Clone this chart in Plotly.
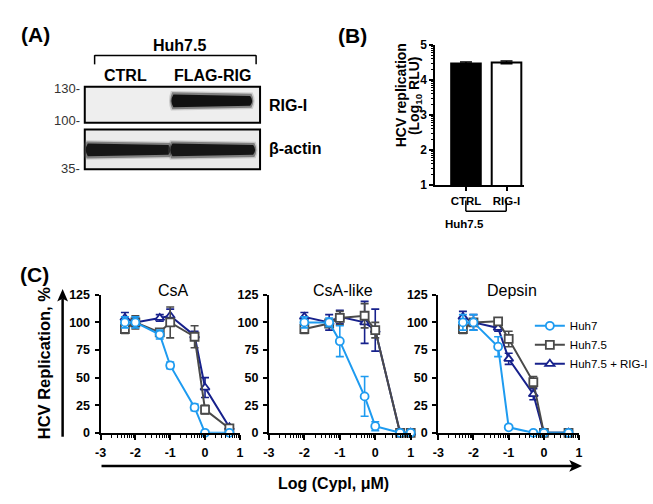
import math
import plotly.graph_objects as go

W, H = 653, 504
FONT = "Liberation Sans, Arial, sans-serif"

# ---------------- Panel B data ----------------
b_categories = ["CTRL", "RIG-I"]
b_values = [4.47, 4.50]
b_errors = [0.04, 0.04]
b_colors = ["black", "white"]

# ---------------- Panel C data ----------------
series_names = ["Huh7", "Huh7.5", "Huh7.5 + RIG-I"]
series_colors = ["#1E9BF0", "#4A4A4A", "#17218C"]
series_symbols = ["circle", "square", "triangle-up"]

x_csa = [-2.3, -2.0, -1.3, -1.0, -0.3, 0.0, 0.7]
csa_huh7 = [100, 100, 89, 61, 23, 0, 0]
csa_huh7_err = [5, 5, 4, 3, 3, 0, 0]
csa_huh75 = [94, 100, 91, 100, 87, 21, 4]
csa_huh75_err = [4, 6, 2, 14, 10, 4, 2]
csa_rig = [104, 100, 104, 106, 88, 41, 5]
csa_rig_err = [5, 4, 3, 6, 4, 9, 2]

x_csalike = [-2.0, -1.3, -1.0, -0.3, 0.0, 0.7, 1.0]
csalike_huh7 = [100, 100, 83, 33, 6, 0, 0]
csalike_huh7_err = [5, 4, 14, 18, 4, 0, 0]
csalike_huh75 = [94, 99, 104, 106, 93, 0, 0]
csalike_huh75_err = [4, 3, 6, 11, 7, 0, 0]
csalike_rig = [105, 100, 105, 100, 93, 0, 0]
csalike_rig_err = [4, 7, 6, 19, 19, 0, 0]

x_depsin = [-2.3, -2.0, -1.3, -1.0, -0.3, 0.0, 0.7]
depsin_huh7 = [100, 100, 78, 5, 0, 0, 0]
depsin_huh7_err = [7, 7, 9, 1, 0, 0, 0]
depsin_huh75 = [94, 100, 101, 85, 46, 0, 0]
depsin_huh75_err = [4, 3, 2, 7, 5, 0, 0]
depsin_rig = [105, 100, 95, 67, 35, 0, 0]
depsin_rig_err = [5, 7, 3, 5, 5, 0, 0]

panel_titles = ["CsA", "CsA-like", "Depsin"]
c_xticks = [-3, -2, -1, 0, 1]
c_yticks = [0, 25, 50, 75, 100, 125]
b_yticks = [1, 2, 3, 4, 5]

panels = [
    (x_csa, [(csa_huh7, csa_huh7_err), (csa_huh75, csa_huh75_err), (csa_rig, csa_rig_err)]),
    (x_csalike, [(csalike_huh7, csalike_huh7_err), (csalike_huh75, csalike_huh75_err), (csalike_rig, csalike_rig_err)]),
    (x_depsin, [(depsin_huh7, depsin_huh7_err), (depsin_huh75, depsin_huh75_err), (depsin_rig, depsin_rig_err)]),
]


def px(x):
    return x / W


def py(y):
    return 1 - y / H


def b(s):
    return f"<b>{s}</b>"


fig = go.Figure()
shapes = []
annotations = []

# ---------------- Panel C traces ----------------
panel_xdom = [(96, 237.5), (267, 411), (439, 582)]
c_ydom = [py(438), py(296)]
for i, (xs, sers) in enumerate(panels):
    xa = "x" if i == 0 else f"x{i + 1}"
    ya = "y" if i == 0 else f"y{i + 1}"
    for j in [2, 1, 0]:
        vals, errs = sers[j]
        c = series_colors[j]
        fig.add_trace(go.Scatter(
            x=xs, y=vals, xaxis=xa, yaxis=ya,
            mode="lines+markers", name=series_names[j],
            line=dict(color=c, width=2),
            marker=dict(symbol=series_symbols[j], size=8, color="white",
                        line=dict(color=c, width=1.8)),
            error_y=dict(type="data", array=errs, color=c, thickness=1.6, width=4),
            cliponaxis=False, showlegend=(i == 2), legendrank=j + 1,
        ))

minor_x = [d + math.log10(k) for d in range(-3, 1) for k in range(2, 10)]
axis_common = dict(showline=True, linecolor="black", linewidth=2, showgrid=False,
                   zeroline=False, ticks="outside", tickcolor="black", tickwidth=2,
                   tickfont=dict(family=FONT, size=12.5, color="black"))
layout_axes = {}
for i in range(3):
    xk = "xaxis" if i == 0 else f"xaxis{i + 1}"
    yk = "yaxis" if i == 0 else f"yaxis{i + 1}"
    ya = "y" if i == 0 else f"y{i + 1}"
    xa = "x" if i == 0 else f"x{i + 1}"
    x0, x1 = panel_xdom[i]
    layout_axes[xk] = dict(axis_common, domain=[px(x0), px(x1)], range=[-3, 1],
                           tickvals=c_xticks, ticktext=[b(v) for v in c_xticks],
                           ticklen=5, anchor=ya, ticklabelstandoff=2,
                           minor=dict(tickvals=minor_x, ticklen=3, tickwidth=1.2,
                                      ticks="outside", tickcolor="black"))
    layout_axes[yk] = dict(axis_common, domain=c_ydom, range=[0, 125],
                           tickvals=c_yticks, ticktext=[b(v) for v in c_yticks],
                           ticklen=4, anchor=xa, ticklabelstandoff=2)
    annotations.append(dict(text=panel_titles[i], xref="paper", yref="paper",
                            x=px((x0 + x1) / 2 + 3), y=py(292), showarrow=False,
                            font=dict(family=FONT, size=16, color="black"),
                            xanchor="center", yanchor="middle"))

# ---------------- Panel B ----------------
fig.add_trace(go.Bar(
    x=[0, 1], y=b_values, xaxis="x4", yaxis="y4", width=0.73,
    marker=dict(color=b_colors, line=dict(color="black", width=2)),
    error_y=dict(type="data", array=b_errors, color="black", thickness=1.5, width=6),
    showlegend=False,
))
minor_b = [d + math.log10(k) for d in range(1, 5) for k in range(2, 10)]
layout_axes["xaxis4"] = dict(axis_common, domain=[px(436), px(526)], range=[-0.756, 1.43],
                             tickvals=[0, 1], ticktext=[b(c) for c in b_categories],
                             ticklen=4, anchor="y4")
layout_axes["xaxis4"]["tickfont"] = dict(family=FONT, size=11.5, color="black")
layout_axes["yaxis4"] = dict(axis_common, domain=[py(183), py(39)], range=[1, 5],
                             tickvals=b_yticks, ticktext=[b(v) for v in b_yticks],
                             ticklen=4, anchor="x4",
                             minor=dict(tickvals=minor_b, ticklen=2.5, tickwidth=1,
                                        ticks="outside", tickcolor="black"))
layout_axes["yaxis4"]["tickfont"] = dict(family=FONT, size=12, color="black")


def line(x0, y0, x1, y1, w=1.5, color="black"):
    shapes.append(dict(type="line", xref="paper", yref="paper",
                       x0=px(x0), y0=py(y0), x1=px(x1), y1=py(y1),
                       line=dict(color=color, width=w)))


def rect(x0, y0, x1, y1, fill, lc="black", lw=0, opacity=1):
    shapes.append(dict(type="rect", xref="paper", yref="paper",
                       x0=px(x0), y0=py(y1), x1=px(x1), y1=py(y0),
                       fillcolor=fill, line=dict(color=lc, width=lw), opacity=opacity))


def path(pts_cmds, fill, opacity=1):
    s = ""
    for cmd in pts_cmds:
        if cmd[0] == "Z":
            s += " Z"
        else:
            letter = cmd[0]
            coords = cmd[1:]
            s += " " + letter + " " + " ".join(
                f"{px(coords[k]):.5f},{py(coords[k + 1]):.5f}" for k in range(0, len(coords), 2))
    shapes.append(dict(type="path", xref="paper", yref="paper", path=s.strip(),
                       fillcolor=fill, line=dict(width=0), opacity=opacity))


def band(x0, x1, yc, hl, hr, color, grow=0.0, opacity=1.0):
    hl += grow * 2
    hr += grow * 2
    x0 -= grow
    x1 += grow
    path([("M", x0, yc - hl / 2), ("L", x1, yc - hr / 2),
          ("Q", x1 + 4, yc, x1, yc + hr / 2), ("L", x0, yc + hl / 2),
          ("Q", x0 - 4, yc, x0, yc - hl / 2), ("Z",)], color, opacity)


# bracket under Panel B
line(467, 199, 467, 210, 1.5)
line(508, 199, 508, 210, 1.5)
line(467, 210, 508, 210, 1.5)
annotations.append(dict(text=b("Huh7.5"), xref="paper", yref="paper", x=px(487), y=py(223),
                        showarrow=False, font=dict(family=FONT, size=11.5, color="black")))
annotations.append(dict(text=b("HCV replication"), xref="paper", yref="paper",
                        x=px(402), y=py(91), showarrow=False, textangle=-90,
                        xanchor="center", yanchor="middle",
                        font=dict(family=FONT, size=14, color="black")))
annotations.append(dict(text=b("(Log<sub>10</sub> RLU)"), xref="paper", yref="paper",
                        x=px(416), y=py(91), showarrow=False, textangle=-90,
                        xanchor="center", yanchor="middle",
                        font=dict(family=FONT, size=14, color="black")))

# ---------------- Panel A (western blot) ----------------
rect(80, 82, 258, 119, "#eeeeee", "black", 2)
rect(80, 126, 258, 167, "#ebebeb", "black", 2)
# RIG-I band (FLAG-RIG lane)
band(170, 248, 96.5, 15, 12, "#666666", grow=2.5, opacity=0.25)
band(170, 248, 96.5, 15, 12, "#333333", grow=1.2, opacity=0.5)
band(170, 248, 96.5, 13, 10, "#111111")
# beta-actin bands
for (a, b_) in [(83, 165), (169, 251)]:
    band(a, b_, 147, 15, 12, "#666666", grow=2.5, opacity=0.25)
    band(a, b_, 147, 15, 12, "#333333", grow=1.2, opacity=0.5)
    band(a, b_, 147, 13, 10, "#161616")

line(90, 50, 254, 50, 1.5)
line(90, 49.5, 90, 59, 1.5)
line(254, 49.5, 254, 59, 1.5)

reg = lambda s: dict(family=FONT, size=s, color="black")
texts = [
    (b("(A)"), 13, 28, reg(21), "left"),
    (b("(B)"), 335, 29, reg(21), "left"),
    (b("(C)"), 12, 275, reg(21), "left"),
    (b("Huh7.5"), 176, 40, reg(16), "center"),
    (b("CTRL"), 121, 70, reg(16), "center"),
    (b("FLAG-RIG"), 210, 70, reg(16), "center"),
    (b("RIG-I"), 265, 101, reg(16), "left"),
    (b("β-actin"), 265, 146, reg(16), "left"),
    ("130-", 77, 84, dict(family=FONT, size=13, color="#333333"), "right"),
    ("100-", 77, 117, dict(family=FONT, size=13, color="#333333"), "right"),
    ("35-", 77, 166, dict(family=FONT, size=13, color="#333333"), "right"),
    (b("Log (CypI, μM)"), 333, 490, reg(16), "center"),
]
for t, x, y, f, anc in texts:
    annotations.append(dict(text=t, xref="paper", yref="paper", x=px(x), y=py(y),
                            showarrow=False, font=f, xanchor=anc, yanchor="middle"))
annotations.append(dict(text=b("HCV Replication, %"), xref="paper", yref="paper", x=px(38), y=py(366),
                        showarrow=False, textangle=-90, font=reg(16.5),
                        xanchor="center", yanchor="middle"))

# ---------------- Panel C arrows ----------------
line(57.5, 442, 57.5, 300, 2.5)
path([("M", 57.5, 290), ("L", 63, 303), ("L", 57.5, 300), ("L", 52, 303), ("Z",)], "black")
line(97, 472, 576, 472, 2.5)
path([("M", 585, 472), ("L", 572, 466), ("L", 575, 472), ("L", 572, 478), ("Z",)], "black")

fig.update_layout(
    width=W, height=H,
    margin=dict(l=0, r=0, t=0, b=0),
    paper_bgcolor="white", plot_bgcolor="rgba(0,0,0,0)",
    font=dict(family=FONT, color="black"),
    shapes=shapes, annotations=annotations,
    showlegend=True,
    legend=dict(x=px(532), y=py(313), xanchor="left", yanchor="top",
                bgcolor="rgba(0,0,0,0)", font=dict(family=FONT, size=11.5, color="black"),
                tracegroupgap=0, itemwidth=30),
    **layout_axes,
)

fig.write_html("out.html", config={"displayModeBar": False},
               post_script="document.body.style.margin='0';document.body.style.padding='0';")
